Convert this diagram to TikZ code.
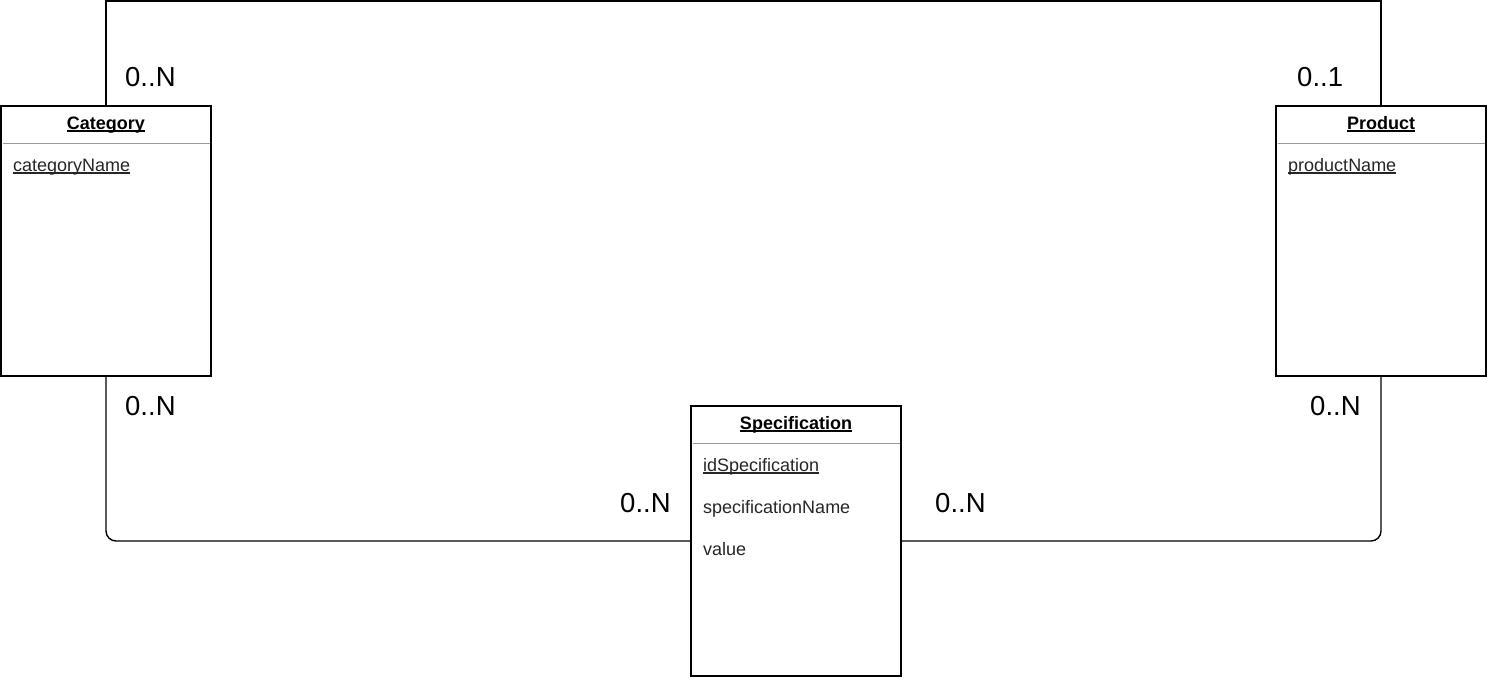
\documentclass[tikz,border=0pt]{standalone}
\usepackage{fontspec}
\setmainfont{Liberation Sans}
\newcommand{\myul}[1]{\setbox0\hbox{#1}\rlap{\rule[-2.6pt]{\wd0}{1.2pt}}\box0}
\begin{document}
\begin{tikzpicture}[x=1pt,y=-1pt,
  entity/.style={draw=black,line width=1.4pt,fill=white,minimum width=210pt,minimum height=270pt,inner sep=0pt,outer sep=0pt,anchor=north west},
  hdr/.style={font=\fontsize{18}{22}\selectfont\bfseries,inner sep=0pt,anchor=base},
  attr/.style={font=\fontsize{18}{22}\selectfont,inner sep=0pt,anchor=base west,text=black!85},
  mult/.style={font=\fontsize{27.5}{32}\selectfont,inner sep=0pt,anchor=base west},
  sepline/.style={draw=black!40,line width=1.4pt},
  conn/.style={draw=black,line width=1.4pt,rounded corners=10pt}]
\useasboundingbox (0,0) rectangle (1487,677);
% entities
\node[entity] (cat) at (1,106) {};
\node[entity] (prod) at (1276,106) {};
\node[entity] (spec) at (691,406) {};
% headers
\node[hdr] (catH) at ([shift={(0,23)}]cat.north) {\myul{Category}};
\node[hdr] (prodH) at ([shift={(0,23)}]prod.north) {\myul{Product}};
\node[hdr] (specH) at ([shift={(0,23)}]spec.north) {\myul{Specification}};
% separators
\draw[sepline] ([shift={(1.5,37.5)}]cat.north west) -- ([shift={(-1.5,37.5)}]cat.north east);
\draw[sepline] ([shift={(1.5,37.5)}]prod.north west) -- ([shift={(-1.5,37.5)}]prod.north east);
\draw[sepline] ([shift={(1.5,37.5)}]spec.north west) -- ([shift={(-1.5,37.5)}]spec.north east);
% attributes
\node[attr] (catA1) at ([shift={(12,65)}]cat.north west) {\myul{categoryName}};
\node[attr] (prodA1) at ([shift={(12,65)}]prod.north west) {\myul{productName}};
\node[attr] (specA1) at ([shift={(12,65)}]spec.north west) {\myul{idSpecification}};
\node[attr] (specA2) at ([shift={(12,107)}]spec.north west) {specificationName};
\node[attr] (specA3) at ([shift={(12,149)}]spec.north west) {value};
% connectors
\coordinate (topY) at (0,1);
\draw[conn,rounded corners=0pt] (cat.north) -- (cat.north |- topY) -- (prod.north |- topY) -- (prod.north);
\draw[conn] (cat.south) |- (spec.west);
\draw[conn] (prod.south) |- (spec.east);
% multiplicities
\node[mult] (m1) at (125,86) {0..N};
\node[mult] (m2) at (1297,86) {0..1};
\node[mult] (m3) at (125,415) {0..N};
\node[mult] (m4) at (1310,415) {0..N};
\node[mult] (m5) at (620,512) {0..N};
\node[mult] (m6) at (935,512) {0..N};
\end{tikzpicture}
\end{document}
